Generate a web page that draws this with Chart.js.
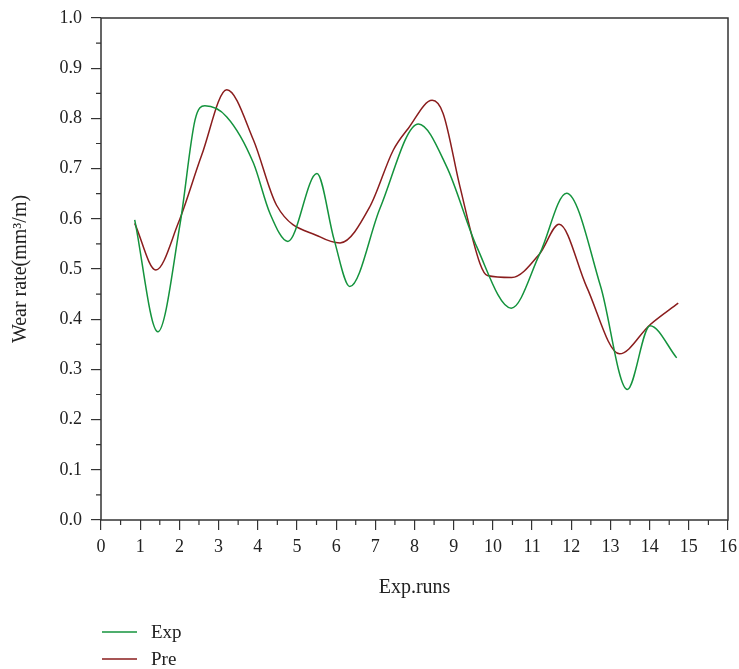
<!DOCTYPE html>
<html>
<head>
<meta charset="utf-8">
<script src="https://cdn.jsdelivr.net/npm/chart.js@4/dist/chart.umd.min.js"></script>
<style>
  body { margin: 0; background: #fff; }
  #wrap { width: 739px; height: 669px; }
</style>
</head>
<body>
<div id="wrap"><canvas id="wearChart" width="739" height="669"></canvas></div>
<script>
// values
const expX = [0.86, 1.45, 2.02, 2.40, 2.65, 3.21, 3.89, 4.31, 4.77, 5.51, 5.95, 6.35, 7.12, 8.10, 8.82, 9.59, 10.47, 11.20, 11.88, 12.75, 13.43, 14.01, 14.69];
const expY = [0.598, 0.375, 0.591, 0.797, 0.825, 0.803, 0.711, 0.611, 0.555, 0.690, 0.558, 0.465, 0.621, 0.789, 0.704, 0.544, 0.422, 0.531, 0.651, 0.465, 0.260, 0.387, 0.323];

const preX = [0.86, 1.40, 1.97, 2.57, 3.21, 3.89, 4.48, 5.59, 6.10, 6.86, 7.46, 7.84, 8.45, 8.73, 9.16, 9.67, 9.86, 10.48, 11.20, 11.69, 12.39, 13.23, 14.01, 14.73];
const preY = [0.591, 0.498, 0.591, 0.727, 0.857, 0.757, 0.627, 0.564, 0.552, 0.624, 0.737, 0.780, 0.836, 0.810, 0.664, 0.511, 0.487, 0.483, 0.531, 0.589, 0.465, 0.331, 0.389, 0.432];

const xTicks = [0, 1, 2, 3, 4, 5, 6, 7, 8, 9, 10, 11, 12, 13, 14, 15, 16];
const yTicks = [0.0, 0.1, 0.2, 0.3, 0.4, 0.5, 0.6, 0.7, 0.8, 0.9, 1.0];

const seriesNames = ["Exp", "Pre"];
const seriesColors = ["#14933d", "#8a1d1d"];

const serif = "'Liberation Serif', 'DejaVu Serif', serif";
const axisColor = "#333";

function toPoints(xs, ys) {
  return xs.map((x, i) => ({ x: x, y: ys[i] }));
}

// box around the plot + minor ticks
const framePlugin = {
  id: "frame",
  afterDraw(chart) {
    const { ctx, chartArea: a, scales } = chart;
    ctx.save();
    ctx.strokeStyle = axisColor;
    ctx.lineWidth = 1.5;
    ctx.strokeRect(a.left, a.top, a.right - a.left, a.bottom - a.top);

    ctx.lineWidth = 1.2;
    ctx.beginPath();
    for (let i = 0; i < yTicks.length - 1; i++) {
      const y = scales.y.getPixelForValue((yTicks[i] + yTicks[i + 1]) / 2);
      ctx.moveTo(a.left, y);
      ctx.lineTo(a.left - 5, y);
    }
    for (let i = 0; i < xTicks.length - 1; i++) {
      const x = scales.x.getPixelForValue((xTicks[i] + xTicks[i + 1]) / 2);
      ctx.moveTo(x, a.bottom);
      ctx.lineTo(x, a.bottom + 5);
    }
    ctx.stroke();
    ctx.restore();
  }
};

// legend stacked under the axis title, like the original
const legendPlugin = {
  id: "stackLegend",
  afterDraw(chart) {
    const ctx = chart.ctx;
    ctx.save();
    ctx.font = "19px " + serif;
    ctx.textBaseline = "middle";
    chart.data.datasets.forEach((ds, i) => {
      const y = 632 + i * 27;
      ctx.strokeStyle = ds.borderColor;
      ctx.lineWidth = 1.5;
      ctx.beginPath();
      ctx.moveTo(102, y);
      ctx.lineTo(137, y);
      ctx.stroke();
      ctx.fillStyle = "#222";
      ctx.fillText(ds.label, 151, y + 1);
    });
    ctx.restore();
  }
};

const ctx = document.getElementById("wearChart").getContext("2d");
const wearChart = new Chart(ctx, {
  type: "line",
  data: {
    datasets: [
      {
        label: seriesNames[0],
        data: toPoints(expX, expY),
        borderColor: seriesColors[0],
        borderWidth: 1.5,
        pointRadius: 0,
        fill: false,
        cubicInterpolationMode: "monotone",
      },
      {
        label: seriesNames[1],
        data: toPoints(preX, preY),
        borderColor: seriesColors[1],
        borderWidth: 1.5,
        pointRadius: 0,
        fill: false,
        cubicInterpolationMode: "monotone",
      },
    ],
  },
  options: {
    responsive: false,
    animation: false,
    layout: {
      padding: { left: 0, top: 18, right: 11, bottom: 69 },
    },
    plugins: {
      legend: { display: false },
      tooltip: { enabled: false },
    },
    scales: {
      x: {
        type: "linear",
        min: xTicks[0],
        max: xTicks[xTicks.length - 1],
        afterBuildTicks(scale) {
          scale.ticks = xTicks.map((v) => ({ value: v }));
        },
        afterFit(scale) {
          scale.height = 80;
          scale.paddingLeft = 0;
          scale.paddingRight = 0;
        },
        border: { display: false },
        grid: {
          drawOnChartArea: false,
          tickLength: 10,
          color: axisColor,
          lineWidth: 1.2,
        },
        ticks: {
          padding: 6,
          color: "#222",
          font: { family: serif, size: 18 },
          maxRotation: 0,
          autoSkip: false,
          callback: (v) => String(v),
        },
        title: {
          display: true,
          text: "Exp.runs",
          color: "#222",
          font: { family: serif, size: 20 },
          padding: { top: 0, bottom: 0 },
        },
      },
      y: {
        type: "linear",
        min: yTicks[0],
        max: yTicks[yTicks.length - 1],
        afterBuildTicks(scale) {
          scale.ticks = yTicks.map((v) => ({ value: v }));
        },
        afterFit(scale) {
          scale.width = 101;
          scale.paddingTop = 0;
          scale.paddingBottom = 0;
        },
        border: { display: false },
        grid: {
          drawOnChartArea: false,
          tickLength: 10,
          color: axisColor,
          lineWidth: 1.2,
        },
        ticks: {
          padding: 9,
          color: "#222",
          font: { family: serif, size: 18 },
          autoSkip: false,
          callback: (v) => Number(v).toFixed(1),
        },
        title: {
          display: true,
          text: "Wear rate(mm³/m)",
          color: "#222",
          font: { family: serif, size: 20 },
          padding: { top: 9, bottom: 0 },
        },
      },
    },
  },
  plugins: [framePlugin, legendPlugin],
});
</script>
</body>
</html>
